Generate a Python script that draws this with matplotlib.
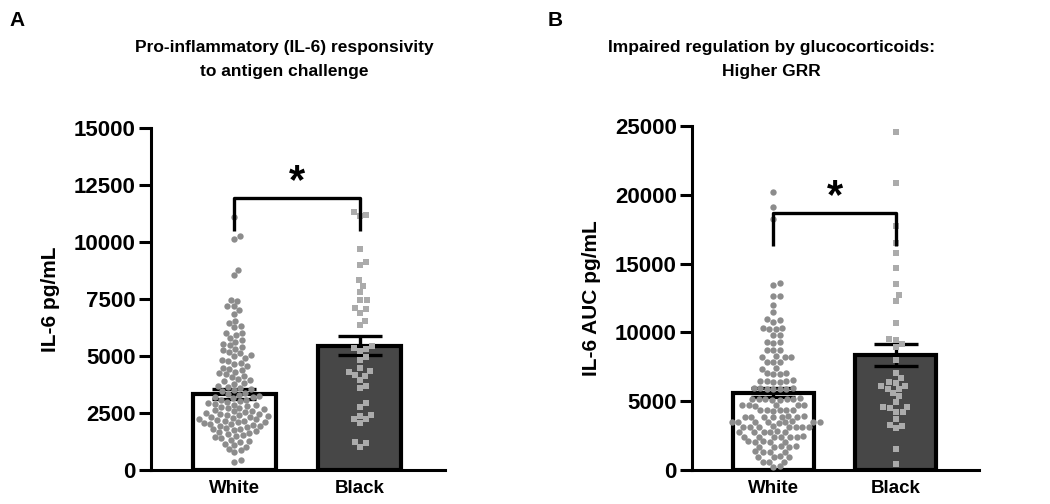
import numpy as np
import matplotlib
matplotlib.use("Agg")
import matplotlib.pyplot as plt

plt.rcParams['font.family'] = ['Liberation Sans', 'DejaVu Sans']
plt.rcParams['font.weight'] = 'bold'

groups = ["White", "Black"]

# Panel A: IL-6 responsivity (pg/mL)
a_white = [11110, 10280, 10130, 8790, 8570, 7460, 7430, 7190, 7200, 7020,
           6840, 6550, 6430, 6320, 6260, 6020, 6000, 5920,
           5780, 5690, 5620, 5540, 5470, 5410, 5320, 5260, 5180, 5130,
           5040, 4990, 4910, 4830, 4790, 4700, 4650, 4560, 4490, 4440,
           4370, 4310, 4240, 4190, 4110, 4070, 3990, 3940, 3890, 3820,
           3770, 3690, 3660, 3590, 3540, 3490, 3460, 3390, 3340, 3310,
           3250, 3220, 3180, 3150, 3090, 3060, 3010, 2980, 2940, 2900,
           2870, 2830, 2790, 2760, 2720, 2700, 2660, 2620, 2590, 2570,
           2530, 2500, 2470, 2440, 2420, 2390, 2360, 2330, 2310, 2280,
           2250, 2220, 2200, 2170, 2140, 2110, 2090, 2060, 2030, 2000,
           1980, 1950, 1920, 1880, 1850, 1810, 1780, 1740, 1700, 1660,
           1620, 1580, 1530, 1480, 1430, 1390, 1330, 1270, 1210, 1150,
           1090, 1010, 930, 860, 780, 450, 360]
a_black = [11300, 11200, 11140, 9710, 8980, 9120, 8320, 8070, 7810, 7440,
           7470, 7050, 6900, 7090, 6540, 6350, 5350, 5200, 5290, 5450,
           4825, 4970, 4460, 4170, 4330, 4120, 4300, 3950, 3700, 3610,
           2780, 2920, 2400, 2220, 2370, 2070, 2230, 1020, 1210, 1180]
a_mean = [3350, 5450]
a_sem = [220, 420]

# Panel B: IL-6 AUC (pg/mL)
b_white = [20220, 19130, 18220, 13590, 13440, 12670, 12640, 11990, 11460,
           10950, 10880, 10750, 10350, 10300, 10260, 10220, 9840, 9790,
           9330, 9290, 9250, 8750, 8720, 8690, 8260, 8230, 8200, 8180,
           7880, 7850, 7820, 7400, 7370, 7060, 7030, 7000, 6980,
           6520, 6490, 6470, 6450, 6420, 6400, 5960, 5940, 5930, 5910,
           5900, 5880, 5860,
           5200, 5180, 5170, 5160, 5140, 5130, 5110, 5100,
           4740, 4730, 4710, 4700, 4690, 4670,
           4380, 4370, 4360, 4350, 4340, 4320,
           3900, 3890, 3880, 3870, 3860, 3850, 3840, 3830,
           3530, 3520, 3510, 3500, 3490, 3480, 3470, 3460, 3450,
           3170, 3160, 3150, 3140, 3130, 3120, 3110, 3100,
           2800, 2790, 2780, 2770, 2760, 2750,
           2440, 2430, 2420, 2410, 2400, 2390, 2380,
           2080, 2070, 2060, 2050, 2040,
           1720, 1710, 1700, 1690, 1680,
           1350, 1340, 1330, 1320,
           980, 970, 960, 950, 610, 600, 590, 260, 220]
b_black = [24590, 20830, 17730, 16520, 15740, 14700, 13500, 12690, 12280,
           10660, 9500, 9450, 8920, 9130, 7990, 7070, 6660, 6420, 6100,
           6340, 5910, 6100, 5860, 5620, 5380, 4960, 4480, 4240, 4240,
           4600, 4600, 3680, 3200, 3270, 3070, 1530, 440]
b_mean = [5600, 8350]
b_sem = [330, 800]


def swarm_offsets(values, ax, diam_px):
    # simple beeswarm: place each point as close to centre as it can go
    sx = ax.bbox.width / (ax.get_xlim()[1] - ax.get_xlim()[0])
    sy = ax.bbox.height / (ax.get_ylim()[1] - ax.get_ylim()[0])
    ys = np.asarray(values, dtype=float) * sy
    order = np.argsort(ys)
    placed = []
    offs = np.zeros(len(values))
    steps = [0.0]
    for k in range(1, 200):
        steps += [k * 0.5, -k * 0.5]
    for i in order:
        for dx in steps:
            ok = True
            for (px, py) in placed:
                if (px - dx) ** 2 + (py - ys[i]) ** 2 < diam_px ** 2:
                    ok = False
                    break
            if ok:
                offs[i] = dx / sx
                placed.append((dx, ys[i]))
                break
    return offs


fig = plt.figure(figsize=(10.5, 5.04), dpi=100)
axA = fig.add_axes([0.1438, 0.0675, 0.28, 0.6786])
axB = fig.add_axes([0.659, 0.0675, 0.2733, 0.6825])

panels = [
    (axA, a_white, a_black, a_mean, a_sem, 15000, 2500, "IL-6 pg/mL", 11950, 10500),
    (axB, b_white, b_black, b_mean, b_sem, 25000, 5000, "IL-6 AUC pg/mL", 18700, 16300),
]

for ax, wv, bv, means, sems, ymax, ystep, ylab, brk_top, brk_low in panels:
    ax.set_xlim(-0.665, 1.68)
    ax.set_ylim(0, ymax)
    x = np.arange(len(groups))
    ax.bar(x, means, width=0.66, color=['white', '#474747'], edgecolor='black',
           linewidth=3.0, zorder=1)
    ax.errorbar(x, means, yerr=sems, fmt='none', ecolor='black', elinewidth=2.4,
                capsize=16, capthick=2.4, zorder=2)
    ow = swarm_offsets(wv, ax, 6.4)
    ob = swarm_offsets(bv, ax, 6.6)
    ax.scatter(x[0] + ow, wv, s=21, marker='o', color='#8c8c8c', linewidths=0, zorder=3)
    ax.scatter(x[1] + ob, bv, s=22, marker='s', color='#ababab', linewidths=0, zorder=3)

    # significance bracket
    ax.plot([0, 0, 1, 1], [brk_low, brk_top, brk_top, brk_low], color='black',
            lw=2.4, zorder=4, solid_capstyle='butt')
    ax.text(0.5, brk_top - ymax * 0.012, "*", ha='center', va='bottom',
            fontsize=30, fontweight='bold')

    ax.set_yticks(np.arange(0, ymax + 1, ystep))
    ax.set_xticks(x)
    ax.set_xticklabels(groups)
    ax.set_ylabel(ylab, fontsize=15, fontweight='bold', labelpad=10)
    for s in ['top', 'right']:
        ax.spines[s].set_visible(False)
    for s in ['left', 'bottom']:
        ax.spines[s].set_linewidth(2.2)
    ax.tick_params(axis='y', length=9, width=2.2, labelsize=16, pad=2)
    ax.tick_params(axis='x', length=0, labelsize=13.5, pad=7)

fig.text(0.0162, 0.96, "A", fontsize=15, fontweight='bold', ha='center', va='center')
fig.text(0.529, 0.96, "B", fontsize=15, fontweight='bold', ha='center', va='center')
fig.text(0.2705, 0.882, "Pro-inflammatory (IL-6) responsivity\nto antigen challenge",
         fontsize=12.5, fontweight='bold', ha='center', va='center', linespacing=1.75)
fig.text(0.7343, 0.882, "Impaired regulation by glucocorticoids:\nHigher GRR",
         fontsize=12.5, fontweight='bold', ha='center', va='center', linespacing=1.75)

fig.savefig("out.png", dpi=100)
